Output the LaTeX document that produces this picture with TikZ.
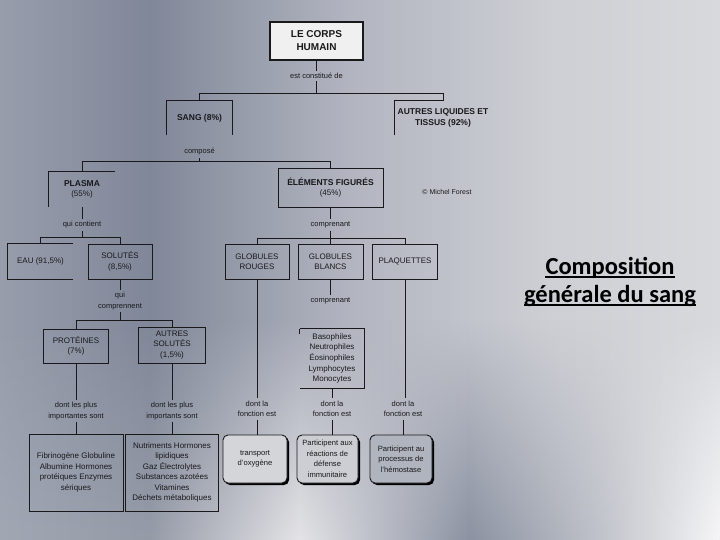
\documentclass[tikz,border=0pt]{standalone}
\usepackage{fontspec}
\setmainfont{Liberation Sans}
\newfontfamily\titlefont{Carlito}
\usetikzlibrary{shadows,fadings}

\definecolor{bgA}{RGB}{152,157,172}
\definecolor{bgB}{RGB}{128,135,152}
\definecolor{bgC}{RGB}{178,181,192}
\definecolor{bgD}{RGB}{205,207,212}
\definecolor{bgE}{RGB}{216,217,221}
\definecolor{btA}{RGB}{162,167,180}
\definecolor{btB}{RGB}{150,155,168}
\definecolor{btC}{RGB}{228,228,231}
\definecolor{btD}{RGB}{140,146,162}
\definecolor{btE}{RGB}{192,195,202}
\definecolor{btF}{RGB}{246,246,247}
\definecolor{rfA}{RGB}{212,213,217}
\definecolor{rfB}{RGB}{205,206,211}
\definecolor{rfC}{RGB}{176,180,190}
\definecolor{ink}{RGB}{25,25,28}

\pgfdeclarehorizontalshading{bgbase}{100bp}{color(0bp)=(bgA); color(25bp)=(bgA); color(35.4bp)=(bgB); color(49.3bp)=(bgC); color(63.2bp)=(bgD); color(75bp)=(bgE); color(100bp)=(bgE)}
\pgfdeclarehorizontalshading{bgbottom}{100bp}{color(0bp)=(btA); color(25bp)=(btA); color(35.4bp)=(btB); color(45.8bp)=(btC); color(57.6bp)=(btD); color(66.7bp)=(btE); color(75bp)=(btF); color(100bp)=(btF)}

\begin{document}
\begin{tikzpicture}[x=1pt,y=-1pt,
  txt/.style={font=\fontsize{8}{10.5}\selectfont, align=center, inner sep=0pt, text=ink},
  lbl/.style={txt, font=\fontsize{7.5}{10.5}\selectfont, outer sep=2.5pt},
  boxed/.style={txt, draw=ink, line width=0.9pt},
  bold/.style={font=\fontsize{8.5}{11.5}\selectfont\bfseries},
  frame/.style={draw=ink, line width=0.9pt},
  conn/.style={draw=ink, line width=0.8pt},
  rbox/.style={txt, draw=ink, line width=0.9pt, rounded corners=5pt,
    drop shadow={shadow xshift=2pt, shadow yshift=-2pt, fill=black, opacity=1}},
]
\useasboundingbox (0,0) rectangle (720,540);
\shade[shading=bgbase] (0,0) rectangle (720,540);
\shade[shading=bgbottom, path fading=north] (0,320) rectangle (720,540);

% top
\node[txt, draw=ink, line width=1.8pt, fill=gray!12, minimum width=93pt, minimum height=38pt,
      font=\fontsize{10}{13}\selectfont\bfseries] (corps) at (316.5,41) {LE CORPS\\HUMAIN};
\node[lbl] (l1) at (316.5,76) {est constitué de};
\coordinate (b1) at (0,93);

\node[txt, bold, minimum width=65pt, minimum height=34pt] (sang) at (199.5,118) {SANG (8\%)};
\node[txt, bold, minimum width=96pt, minimum height=34pt] (autres) at (443,118) {AUTRES LIQUIDES ET\\TISSUS (92\%)};
\draw[frame] (sang.south west) -- (sang.north west) -- (sang.north east) -- (sang.south east);
\draw[frame] (autres.south west) |- (autres.north);

\draw[conn] (corps.south) -- (l1.north);
\draw[conn] (l1.south) -- (l1.south |- b1);
\draw[conn] (sang.north) |- (autres.north |- b1) -- (autres.north);

% sang
\node[lbl] (l2) at (199.5,152) {composé};
\coordinate (b2) at (0,161);
\node[txt, minimum width=66pt, minimum height=35pt] (plasma) at (82,189.5) {{\fontsize{8.5}{11.5}\selectfont\bfseries PLASMA}\\(55\%)};
\draw[frame] (plasma.south west) |- (plasma.north east);
\node[boxed, minimum width=105pt, minimum height=39pt] (elements) at (330.5,187.5) {{\fontsize{8.5}{11.5}\selectfont\bfseries ÉLÉMENTS FIGURÉS}\\(45\%)};
\draw[conn] (l2.south) -- (l2.south |- b2);
\draw[conn] (plasma.north) |- (elements.north |- b2) -- (elements.north);

% plasma branch
\node[lbl] (l3) at (82,225) {qui contient};
\coordinate (b3) at (0,237);
\node[txt, minimum width=65pt, minimum height=35pt] (eau) at (40.5,261.5) {EAU (91,5\%)};
\draw[frame] (eau.north east) -| (eau.south west) -- (eau.south east);
\node[boxed, minimum width=64pt, minimum height=35pt] (solutes) at (120,261.5) {SOLUTÉS\\(8,5\%)};
\draw[conn] (plasma.south) -- (l3.north);
\draw[conn] (l3.south) -- (l3.south |- b3);
\draw[conn] (eau.north) |- (solutes.north |- b3) -- (solutes.north);

\node[lbl] (l4) at (120,301) {qui\\comprennent};
\coordinate (b4) at (0,320);
\node[boxed, minimum width=65pt, minimum height=34pt] (prot) at (76,346) {PROTÉINES\\(7\%)};
\node[boxed, minimum width=67pt, minimum height=36pt] (asol) at (172,345) {AUTRES\\SOLUTÉS\\(1,5\%)};
\draw[conn] (solutes.south) -- (l4.north);
\draw[conn] (l4.south) -- (l4.south |- b4);
\draw[conn] (prot.north) |- (asol.north |- b4) -- (asol.north);

\node[lbl] (l5) at (76,411) {dont les plus\\importantes sont};
\node[lbl] (l6) at (172,411) {dont les plus\\importants sont};
\node[boxed, minimum width=94pt, minimum height=77pt] (pbox) at (76,472.5)
  {Fibrinogène Globuline\\Albumine Hormones\\protéiques Enzymes\\sériques};
\node[boxed, minimum width=93pt, minimum height=77pt] (sbox) at (172,472.5)
  {Nutriments Hormones\\lipidiques\\Gaz Électrolytes\\Substances azotées\\Vitamines\\Déchets métaboliques};
\draw[conn] (prot.south) -- (l5.north);
\draw[conn] (asol.south) -- (l6.north);
\draw[conn] (l5.south) -- (pbox.north);
\draw[conn] (l6.south) -- (sbox.north);

% elements figures branch
\node[lbl] (l7) at (330.5,225) {comprenant};
\coordinate (b5) at (0,238);
\node[boxed, minimum width=64pt, minimum height=35pt] (gr) at (257,261.5) {GLOBULES\\ROUGES};
\node[boxed, minimum width=65pt, minimum height=35pt] (gb) at (330.5,261.5) {GLOBULES\\BLANCS};
\node[boxed, minimum width=65pt, minimum height=35pt] (plaq) at (405,261.5) {PLAQUETTES};
\draw[conn] (elements.south) -- (l7.north);
\draw[conn] (l7.south) -- (l7.south |- b5);
\draw[conn] (gr.north) |- (plaq.north |- b5) -- (plaq.north);
\draw[conn] (gb.north) -- (gb.north |- b5);

\node[lbl] (l8) at (330.5,301) {comprenant};
\draw[conn] (gb.south) -- (l8.north);
\node[txt, minimum width=64pt, minimum height=59pt, font=\fontsize{8}{10.7}\selectfont] (leuco) at (332,358.5)
  {Basophiles\\Neutrophiles\\Éosinophiles\\Lymphocytes\\Monocytes};
\draw[frame] (leuco.north west) -- (leuco.north east) -- (leuco.south east) -- (leuco.south west);
\draw[frame] (leuco.north west) -- ++(0,5);

\node[lbl] (l9) at (257,409) {dont la\\fonction est};
\node[lbl] (l10) at (332,409) {dont la\\fonction est};
\node[lbl] (l11) at (403,409) {dont la\\fonction est};
\draw[conn] (gr.south) -- (l9.north);
\draw[conn] (leuco.south) -- (l10.north);
\draw[conn] (plaq.south) -- (plaq.south |- l11.north);

\node[rbox, fill=rfA, minimum width=64pt, minimum height=48pt, font=\fontsize{7.6}{10.5}\selectfont] (r1) at (255,459) {transport\\d'oxygène};
\node[rbox, fill=rfB, minimum width=61pt, minimum height=48pt, font=\fontsize{7.6}{10.5}\selectfont] (r2) at (327.5,459) {Participent aux\\réactions de\\défense\\immunitaire};
\node[rbox, fill=rfC, minimum width=62pt, minimum height=48pt, font=\fontsize{7.6}{10.5}\selectfont] (r3) at (401,459) {Participent au\\processus de\\l'hémostase};
\draw[conn] (l9.south) -- (l9.south |- r1.north);
\draw[conn] (l10.south) -- (l10.south |- r2.north);
\draw[conn] (l11.south) -- (l11.south |- r3.north);

% credit
\node[txt, font=\fontsize{7}{9}\selectfont] (credit) at (447,192) {© Michel Forest};

% title
\node[inner sep=0pt, anchor=base, font=\titlefont\fontsize{24.5}{29}\selectfont\bfseries, text=black] (t1) at (610,274) {Composition};
\node[inner sep=0pt, anchor=base, font=\titlefont\fontsize{24.5}{29}\selectfont\bfseries, text=black] (t2) at (610,302) {générale du sang};
\draw[line width=1.6pt] ([yshift=-3pt]t1.base west) -- ([yshift=-3pt]t1.base east);
\draw[line width=1.6pt] ([yshift=-3pt]t2.base west) -- ([yshift=-3pt]t2.base east);
\end{tikzpicture}
\end{document}
